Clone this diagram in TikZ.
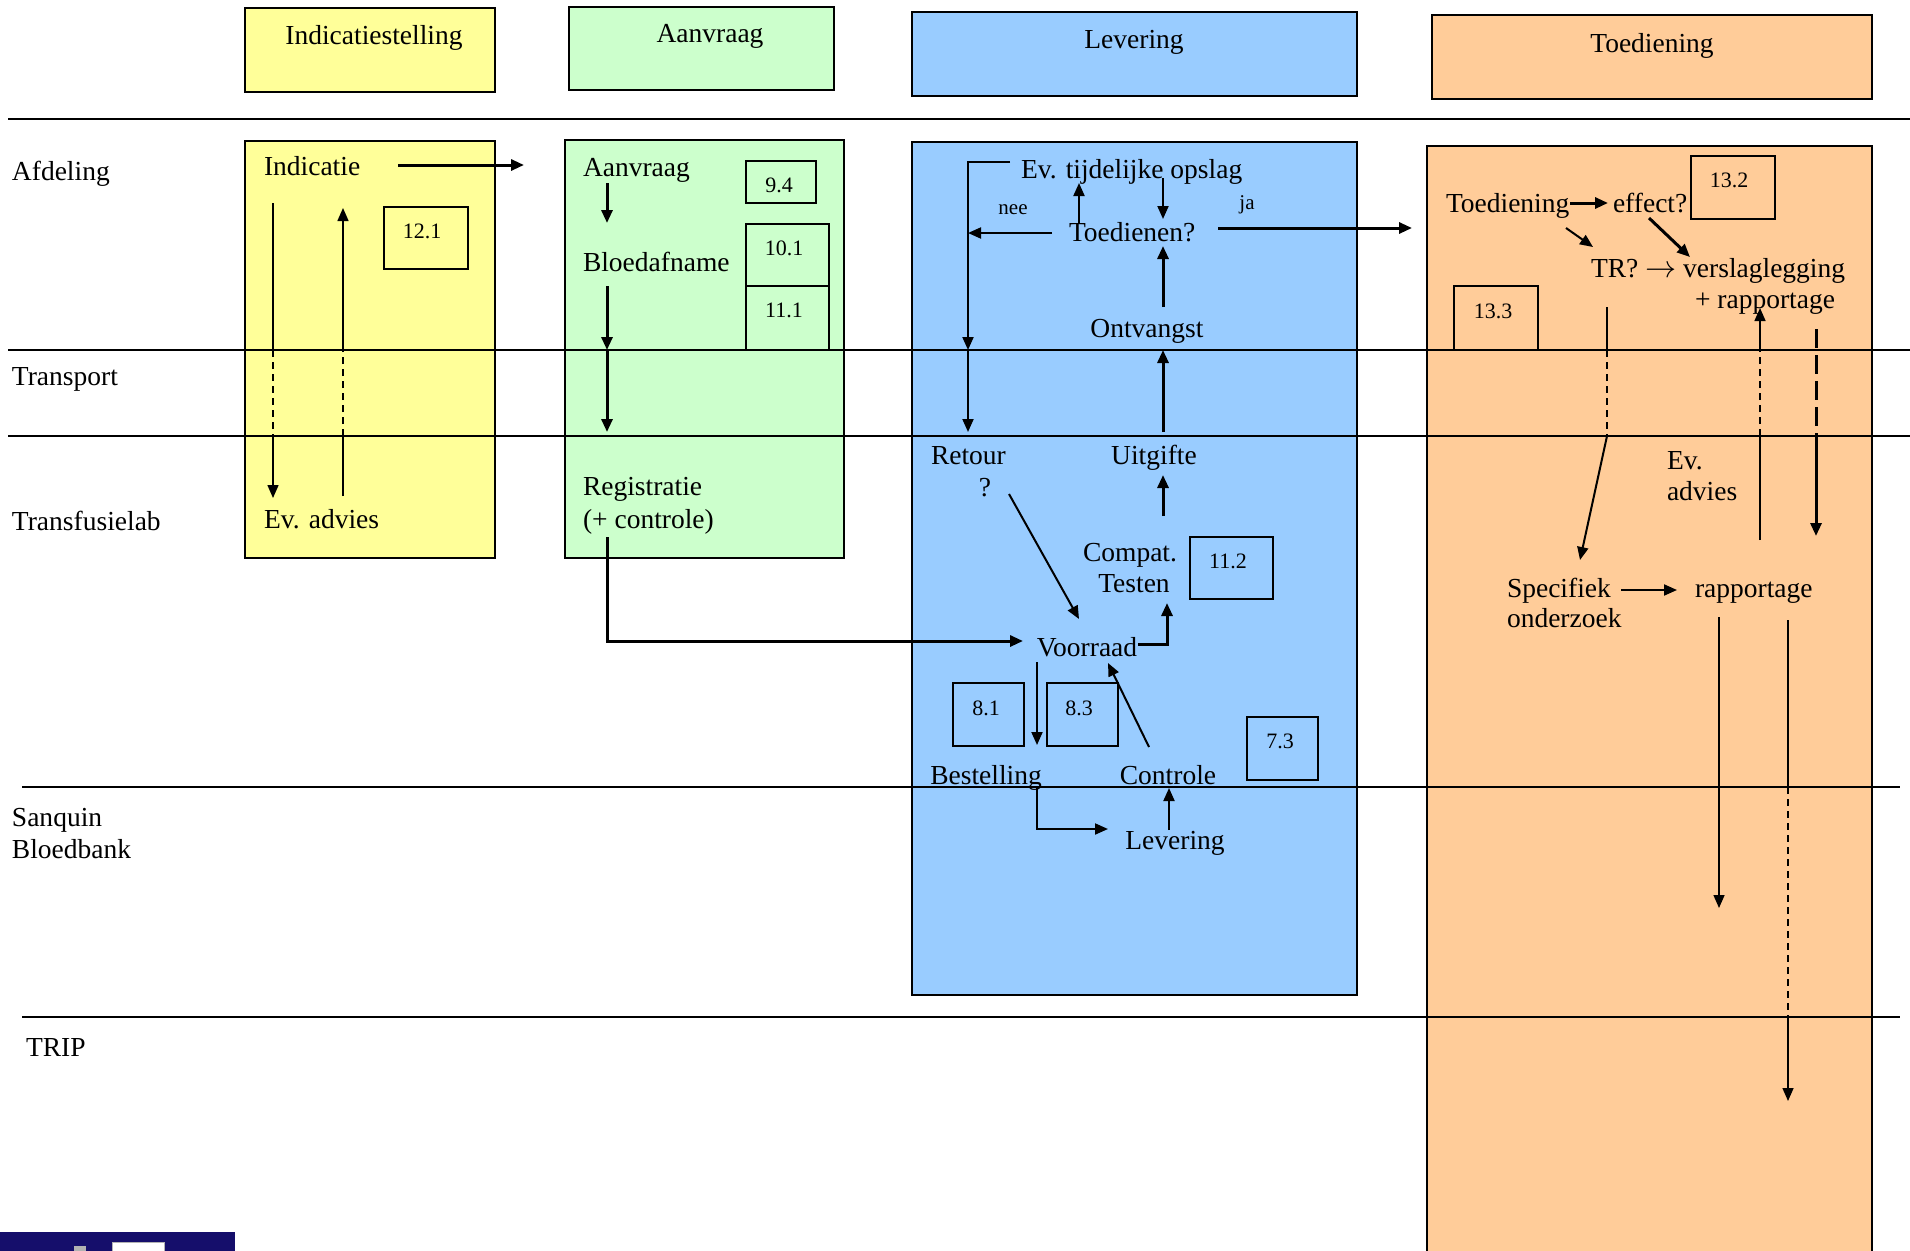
\documentclass[tikz,border=0pt]{standalone}
\usepackage{graphicx}
\usepackage{fontspec}
\setmainfont{Liberation Serif}
\usetikzlibrary{arrows.meta,calc}
\definecolor{cyel}{HTML}{FFFF99}
\definecolor{cgrn}{HTML}{CCFFCC}
\definecolor{cblu}{HTML}{99CCFF}
\definecolor{corg}{HTML}{FFCC99}
\definecolor{cnavy}{HTML}{150E6B}
\begin{document}
\begin{tikzpicture}[x=1pt,y=-1pt,
  every node/.style={inner sep=0pt,outer sep=0pt},
  txt/.style={font=\fontsize{27.5}{32}\selectfont,yshift=-5pt},
  num/.style={font=\fontsize{22}{26}\selectfont,yshift=-1.5pt},
  sml/.style={font=\fontsize{21}{24}\selectfont,yshift=-2pt},
  hbox/.style={draw,line width=2pt,anchor=north west},
  nbox/.style={draw,line width=2pt,anchor=north west},
  arr/.style={-{Triangle[length=13pt,width=11pt]}},
  thk/.style={line width=3pt,arr},
  med/.style={line width=2pt,arr},
  thn/.style={line width=1.5pt,arr},
  ln/.style={line width=1.5pt},
  dsh/.style={line width=1.5pt,dash pattern=on 7pt off 5pt},
  bdsh/.style={line width=3pt,dash pattern=on 19pt off 7pt},
  sep/.style={line width=1.5pt}]
\useasboundingbox (0,0) rectangle (1910,1250);

% ---------- header boxes ----------
\node[hbox,fill=cyel,minimum width=250pt,minimum height=84pt] (hI) at (245,8) {};
\node[hbox,fill=cgrn,minimum width=265pt,minimum height=83pt] (hA) at (569,7) {};
\node[hbox,fill=cblu,minimum width=445pt,minimum height=84pt] (hL) at (912,12) {};
\node[hbox,fill=corg,minimum width=440pt,minimum height=84pt] (hT) at (1432,15) {};
\node[txt,anchor=mid] (tI) at (374,37) {Indicatiestelling};
\node[txt,anchor=mid] (tA) at (710,35) {Aanvraag};
\node[txt,anchor=mid] (tL) at (1134,41) {Levering};
\node[txt,anchor=mid] (tT) at (1652,45) {Toediening};

% ---------- lane boxes ----------
\node[nbox,fill=cyel,minimum width=250pt,minimum height=417pt] (lI) at (245,141) {};
\node[nbox,fill=cgrn,minimum width=279pt,minimum height=418pt] (lA) at (565,140) {};
\node[nbox,fill=cblu,minimum width=445pt,minimum height=853pt] (lL) at (912,142) {};
\fill[corg] (1427,146) rectangle (1872,1262);
\draw[line width=2pt] (1427,1262) -- (1427,146) -- (1872,146) -- (1872,1262);

% ---------- lane separators ----------
\draw[line width=2pt] (8,119) -- (1910,119);
\draw[sep] (8,350) -- (1910,350);
\draw[sep] (8,436) -- (1910,436);
\draw[sep] (22,787) -- (1900,787);
\draw[sep] (22,1017) -- (1900,1017);

% ---------- lane labels ----------
\node[txt,anchor=mid west] (lAf) at (12,173) {Afdeling};
\node[txt,anchor=mid west] (lTr) at (12,378) {Transport};
\node[txt,anchor=mid west] (lTl) at (12,523) {Transfusielab};
\node[txt,anchor=mid west] (lSq) at (12,819) {Sanquin};
\node[txt,anchor=mid west] (lBb) at (12,851) {Bloedbank};
\node[txt,anchor=mid west] (lTp) at (26,1049) {TRIP};

% ---------- number boxes ----------
\node[nbox,minimum width=84pt,minimum height=62pt] (b121) at (384,207) {};
\node[num] (n121) at (422,230) {12.1};
\node[nbox,minimum width=70pt,minimum height=42pt] (b94) at (746,161) {};
\node[num] (n94) at (779,184) {9.4};
\node[nbox,minimum width=83pt,minimum height=62pt] (b101) at (746,224) {};
\node[num] (n101) at (784,247) {10.1};
\node[nbox,minimum width=83pt,minimum height=64pt] (b111) at (746,286) {};
\node[num] (n111) at (784,309) {11.1};
\node[nbox,minimum width=83pt,minimum height=62pt] (b112) at (1190,537) {};
\node[num] (n112) at (1228,560) {11.2};
\node[nbox,minimum width=71pt,minimum height=63pt] (b81) at (953,683) {};
\node[num] (n81) at (986,707) {8.1};
\node[nbox,minimum width=71pt,minimum height=63pt] (b83) at (1047,683) {};
\node[num] (n83) at (1079,707) {8.3};
\node[nbox,minimum width=71pt,minimum height=63pt] (b73) at (1247,717) {};
\node[num] (n73) at (1280,740) {7.3};
\node[nbox,minimum width=84pt,minimum height=63pt] (b132) at (1691,156) {};
\node[num] (n132) at (1729,179) {13.2};
\node[nbox,minimum width=84pt,minimum height=64pt] (b133) at (1454,286) {};
\node[num] (n133) at (1493,310) {13.3};

% ---------- texts: Indicatiestelling ----------
\node[txt,anchor=mid west] (ind) at (264,168) {Indicatie};
\node[txt,anchor=mid west] (adv) at (264,521) {Ev. advies};
% ---------- Aanvraag ----------
\node[txt,anchor=mid west] (aan) at (583,169) {Aanvraag};
\node[txt,anchor=mid west] (blo) at (583,264) {Bloedafname};
\node[txt,anchor=mid west] (reg) at (583,488) {Registratie};
\node[txt,anchor=mid west] (regc) at (583,521) {(+ controle)};
% ---------- Levering ----------
\node[txt,anchor=mid west] (evo) at (1021,171) {Ev. tijdelijke opslag};
\node[txt,anchor=mid west] (toe) at (1069,234) {Toedienen?};
\node[sml,anchor=mid] (nee) at (1013,210) {nee};
\node[sml,anchor=mid] (ja) at (1247,205) {ja};
\node[txt,anchor=mid] (ont) at (1147,330) {Ontvangst};
\node[txt,anchor=mid west] (ret) at (931,457) {Retour};
\node[txt,anchor=mid] (retq) at (985,489) {?};
\node[txt,anchor=mid] (uit) at (1154,457) {Uitgifte};
\node[txt,anchor=mid] (cmp) at (1130,554) {Compat.};
\node[txt,anchor=mid] (tst) at (1134,585) {Testen};
\node[txt,anchor=mid] (voo) at (1087,649) {Voorraad};
\node[txt,anchor=mid] (bes) at (986,777) {Bestelling};
\node[txt,anchor=mid] (con) at (1168,777) {Controle};
\node[txt,anchor=mid] (lev) at (1175,842) {Levering};
% ---------- Toediening ----------
\node[txt,anchor=mid west] (tdn) at (1446,205) {Toediening};
\node[txt,anchor=mid west] (eff) at (1613,205) {effect?};
\node[txt,anchor=mid west] (trv) at (1591,270) {TR? \scalebox{1.25}{$\rightarrow$} verslaglegging};
\node[txt,anchor=mid west] (rap1) at (1695,301) {+ rapportage};
\node[txt,anchor=mid west] (eva) at (1667,462) {Ev.};
\node[txt,anchor=mid west] (evb) at (1667,493) {advies};
\node[txt,anchor=mid west] (spe) at (1507,590) {Specifiek};
\node[txt,anchor=mid west] (ond) at (1507,620) {onderzoek};
\node[txt,anchor=mid west] (rap2) at (1695,590) {rapportage};

% ---------- connector end points ----------
\coordinate (c1a) at (398,165); \coordinate (c1b) at (524,165);
\coordinate (yd0) at (273,203); \coordinate (yd1) at (273,350);
\coordinate (yd2) at (273,436); \coordinate (yd3) at (273,498);
\coordinate (yu0) at (343,496); \coordinate (yu1) at (343,436);
\coordinate (yu2) at (343,350); \coordinate (yu3) at (343,208);
\coordinate (g1a) at (607,183); \coordinate (g1b) at (607,223);
\coordinate (g2a) at (607,286); \coordinate (g2b) at (607,350);
\coordinate (g2c) at (607,432);
\coordinate (g3a) at (607,537); \coordinate (g3b) at (1023,641);
\coordinate (br0) at (1010,162); \coordinate (br1) at (968,162);
\coordinate (br2) at (968,350); \coordinate (br3) at (968,432);
\coordinate (up1a) at (1079,223); \coordinate (up1b) at (1079,183);
\coordinate (dn1a) at (1163,178); \coordinate (dn1b) at (1163,219);
\coordinate (neea) at (1052,233); \coordinate (neeb) at (968,233);
\coordinate (jaa) at (1218,228); \coordinate (jab) at (1412,228);
\coordinate (ona) at (1163,307); \coordinate (onb) at (1163,246);
\coordinate (uga) at (1163,432); \coordinate (ugb) at (1163,350);
\coordinate (cta) at (1163,516); \coordinate (ctb) at (1163,475);
\coordinate (rva) at (1009,494); \coordinate (rvb) at (1079,619);
\coordinate (vca) at (1138,644); \coordinate (vcb) at (1167,603);
\coordinate (vba) at (1037,662); \coordinate (vbb) at (1037,745);
\coordinate (cva) at (1149,747); \coordinate (cvb) at (1108,663);
\coordinate (bla) at (1037,787); \coordinate (blb) at (1108,829);
\coordinate (lca) at (1169,830); \coordinate (lcb) at (1169,788);
\coordinate (tea) at (1570,203); \coordinate (teb) at (1608,203);
\coordinate (tta) at (1566,228); \coordinate (ttb) at (1593,247);
\coordinate (eva1) at (1649,218); \coordinate (evb1) at (1690,257);
\coordinate (tr0) at (1607,307); \coordinate (tr1) at (1607,350);
\coordinate (tr2) at (1607,436); \coordinate (tr3) at (1580,560);
\coordinate (ur0) at (1760,540); \coordinate (ur1) at (1760,436);
\coordinate (ur2) at (1760,350); \coordinate (ur3) at (1760,308);
\coordinate (tk0) at (1816,329); \coordinate (tk1) at (1816,436);
\coordinate (tk2) at (1816,536);
\coordinate (sra) at (1621,590); \coordinate (srb) at (1677,590);
\coordinate (rd1a) at (1719,617); \coordinate (rd1b) at (1719,908);
\coordinate (rd2a) at (1788,620); \coordinate (rd2b) at (1788,787);
\coordinate (rd2c) at (1788,1017); \coordinate (rd2d) at (1788,1101);

% ---------- connectors: Indicatiestelling ----------
\draw[thk] (c1a) -- (c1b);
\draw[ln] (yd0) -- (yd1);
\draw[dsh] (yd1) -- (yd2);
\draw[thn] (yd2) -- (yd3);
\draw[ln] (yu0) -- (yu1);
\draw[dsh] (yu1) -- (yu2);
\draw[thn] (yu2) -- (yu3);
% ---------- Aanvraag ----------
\draw[thk] (g1a) -- (g1b);
\draw[thk] (g2a) -- (g2b);
\draw[thk] (g2b) -- (g2c);
\draw[thk] (g3a) |- (g3b);
% ---------- Levering ----------
\draw[med] (br0) -- (br1) -- (br2);
\draw[med] (br2) -- (br3);
\draw[med] (up1a) -- (up1b);
\draw[med] (dn1a) -- (dn1b);
\draw[med] (neea) -- (neeb);
\draw[thk] (jaa) -- (jab);
\draw[thk] (ona) -- (onb);
\draw[thk] (uga) -- (ugb);
\draw[thk] (cta) -- (ctb);
\draw[med] (rva) -- (rvb);
\draw[thk] (vca) -| (vcb);
\draw[med] (vba) -- (vbb);
\draw[med] (cva) -- (cvb);
\draw[med] (bla) |- (blb);
\draw[med] (lca) -- (lcb);
% ---------- Toediening ----------
\draw[thk] (tea) -- (teb);
\draw[med] (tta) -- (ttb);
\draw[thk] (eva1) -- (evb1);
\draw[ln] (tr0) -- (tr1);
\draw[dsh] (tr1) -- (tr2);
\draw[med] (tr2) -- (tr3);
\draw[ln] (ur0) -- (ur1);
\draw[dsh] (ur1) -- (ur2);
\draw[thn] (ur2) -- (ur3);
\draw[bdsh] (tk0) -- (tk1);
\draw[thk] (tk1) -- (tk2);
\draw[med] (sra) -- (srb);
\draw[thn] (rd1a) -- (rd1b);
\draw[ln] (rd2a) -- (rd2b);
\draw[dsh] (rd2b) -- (rd2c);
\draw[thn] (rd2c) -- (rd2d);

% ---------- logo fragment ----------
\fill[cnavy] (0,1232) rectangle (235,1252);
\draw[fill=white,draw=gray!60,line width=1pt] (112,1242) rectangle (164,1254);
\fill[gray!60] (74,1246) rectangle (86,1252);
\end{tikzpicture}
\end{document}
